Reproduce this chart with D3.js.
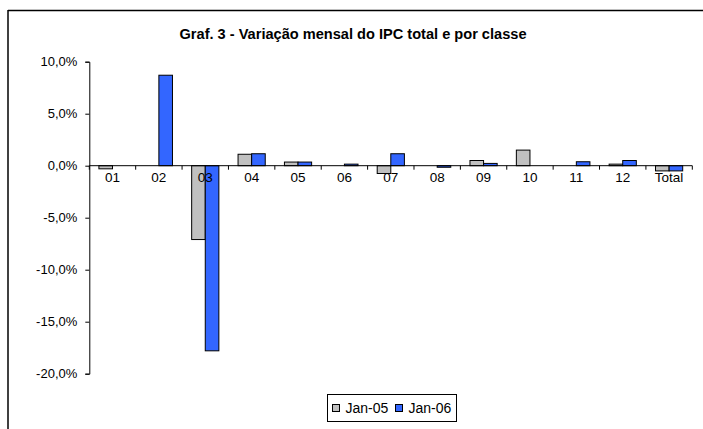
<!DOCTYPE html>
<html><head><meta charset="utf-8">
<script src="https://cdn.jsdelivr.net/npm/d3@7"></script>
<style>
html,body{margin:0;padding:0;background:#fff;}
svg{display:block;font-family:Arial,"Liberation Sans",sans-serif;}
</style></head>
<body><svg id="c" width="703" height="429"></svg>
<script>
const categories = ["01","02","03","04","05","06","07","08","09","10","11","12","Total"];
const seriesNames = ["Jan-05","Jan-06"];
const jan05 = [-0.3, 0, -7.1, 1.1, 0.35, 0, -0.75, 0, 0.5, 1.5, 0, 0.15, -0.5];
const jan06 = [0, 8.7, -17.8, 1.15, 0.35, 0.15, 1.15, -0.15, 0.22, 0, 0.38, 0.5, -0.5];
const yTicks = [10, 5, 0, -5, -10, -15, -20];
const colors = ["#c0c0c0", "#3366ff"];
const title = "Graf. 3 - Variação mensal do IPC total e por classe";

const svg = d3.select("#c");
// outer frame (only top and left visible)
svg.append("line").attr("x1",8).attr("x2",703).attr("y1",10.5).attr("y2",10.5).attr("stroke","#000").attr("stroke-width",1.5);
svg.append("line").attr("x1",8).attr("x2",8).attr("y1",10).attr("y2",429).attr("stroke","#000").attr("stroke-width",1.5);

svg.append("text").attr("x",353).attr("y",39).attr("text-anchor","middle")
  .attr("font-weight","bold").attr("font-size",14).attr("textLength",347).attr("lengthAdjust","spacingAndGlyphs").text(title);

const x0 = d3.scaleBand().domain(categories).range([89.3, 692.3]).padding(0);
const x1 = d3.scaleBand().domain(seriesNames).range([0, x0.bandwidth()]).paddingInner(0).paddingOuter(0.706);
const y = d3.scaleLinear().domain([-20, 10]).range([373.7, 61.7]);

const data = [];
categories.forEach((c,i)=>{
  data.push({c, s:seriesNames[0], v:jan05[i], col:colors[0]});
  data.push({c, s:seriesNames[1], v:jan06[i], col:colors[1]});
});

svg.append("g").selectAll("rect").data(data.filter(d=>d.v!==0)).join("rect")
  .attr("x", d=>x0(d.c)+x1(d.s))
  .attr("width", x1.bandwidth())
  .attr("y", d=>y(Math.max(0,d.v)))
  .attr("height", d=>Math.abs(y(d.v)-y(0)))
  .attr("fill", d=>d.col).attr("stroke","#000").attr("stroke-width",1);

// y axis
const ya = svg.append("g").attr("transform","translate(89.3,0)")
  .call(d3.axisLeft(y).tickValues(yTicks).tickSize(4).tickPadding(8)
    .tickFormat(d=>d3.format(".1f")(d).replace(".",",").replace("−","-")+"%"));
ya.select(".domain").attr("stroke","#000");
ya.selectAll("text").attr("font-size",13).attr("fill","#000").attr("font-family","Arial,'Liberation Sans',sans-serif");

// x axis at zero
const xa = svg.append("g").attr("transform",`translate(0,${y(0)})`);
xa.append("line").attr("x1",89.3).attr("x2",692.3).attr("stroke","#000");
const bounds = categories.map(c=>x0(c)).concat([x0.range()[1]]);
xa.selectAll("line.tk").data(bounds).join("line").attr("class","tk")
  .attr("x1",d=>d).attr("x2",d=>d).attr("y1",0).attr("y2",4).attr("stroke","#000");
xa.selectAll("text").data(categories).join("text")
  .attr("x",d=>x0(d)+x0.bandwidth()/2).attr("y",16).attr("text-anchor","middle")
  .attr("font-size",13.5).text(d=>d);

// legend
const lg = svg.append("g");
lg.append("rect").attr("x",327.5).attr("y",394.5).attr("width",129).attr("height",27).attr("fill","#fff").attr("stroke","#000");
const items = [{n:seriesNames[0],c:colors[0],x:332.5,tx:345.5},{n:seriesNames[1],c:colors[1],x:395.5,tx:408.5}];
items.forEach(it=>{
  lg.append("rect").attr("x",it.x).attr("y",404.5).attr("width",7).attr("height",7).attr("fill",it.c).attr("stroke","#000");
  lg.append("text").attr("x",it.tx).attr("y",412.5).attr("font-size",14).text(it.n);
});
</script></body></html>
